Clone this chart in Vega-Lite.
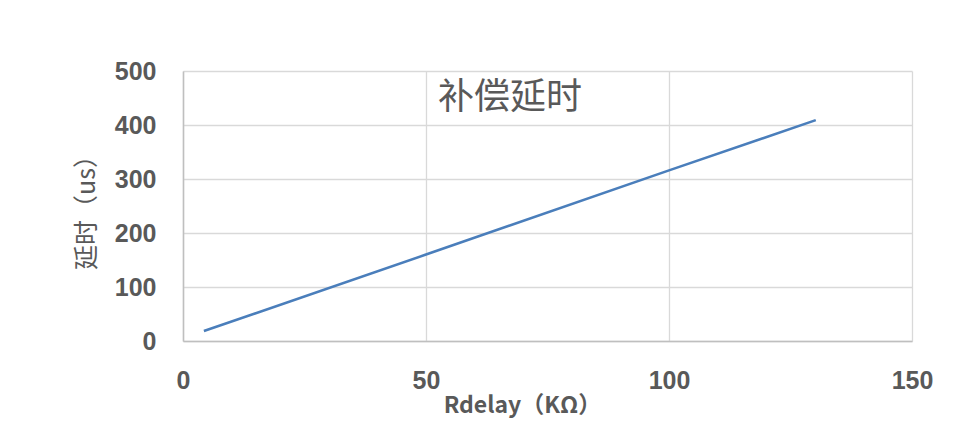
{
  "$schema": "https://vega.github.io/schema/vega-lite/v6.json",
  "autosize": {"type": "none"},
  "width": 729,
  "height": 270,
  "padding": {"left": 183, "top": 71, "right": 59, "bottom": 87},
  "background": "white",
  "title": {
    "text": "补偿延时",
    "anchor": "start",
    "frame": "group",
    "dx": 255,
    "offset": -58,
    "font": "Noto Sans CJK SC",
    "fontSize": 36,
    "fontWeight": "normal",
    "color": "#595959"
  },
  "config": {
    "view": {"stroke": null},
    "axis": {
      "grid": true,
      "gridColor": "#d9d9d9",
      "gridWidth": 1.3,
      "domainColor": "#bfbfbf",
      "domainWidth": 1.5,
      "ticks": false,
      "labelFont": "Liberation Sans",
      "labelFontSize": 25,
      "labelFontWeight": "bold",
      "labelColor": "#595959",
      "labelFlush": false,
      "titleColor": "#595959"
    }
  },
  "data": {
    "values": [
      {"r": 4.3, "t": 18.5},
      {"r": 50, "t": 160},
      {"r": 100, "t": 316},
      {"r": 130.2, "t": 409}
    ]
  },
  "mark": {"type": "line", "color": "#4a7ebb", "strokeWidth": 2.6},
  "encoding": {
    "x": {
      "field": "r",
      "type": "quantitative",
      "scale": {"domain": [0, 150], "nice": false},
      "axis": {
        "values": [0, 50, 100, 150],
        "labelPadding": 27,
        "title": "Rdelay（KΩ）",
        "titleFont": "Noto Sans CJK SC",
        "titleFontSize": 23,
        "titleFontWeight": "bold",
        "titleX": 339,
        "titlePadding": 1
      }
    },
    "y": {
      "field": "t",
      "type": "quantitative",
      "scale": {"domain": [0, 500], "nice": false},
      "axis": {
        "values": [0, 100, 200, 300, 400, 500],
        "labelPadding": 27,
        "title": "延时（us）",
        "titleFont": "Noto Sans CJK SC",
        "titleFontSize": 25,
        "titleFontWeight": "normal",
        "titlePadding": 15
      }
    }
  }
}
